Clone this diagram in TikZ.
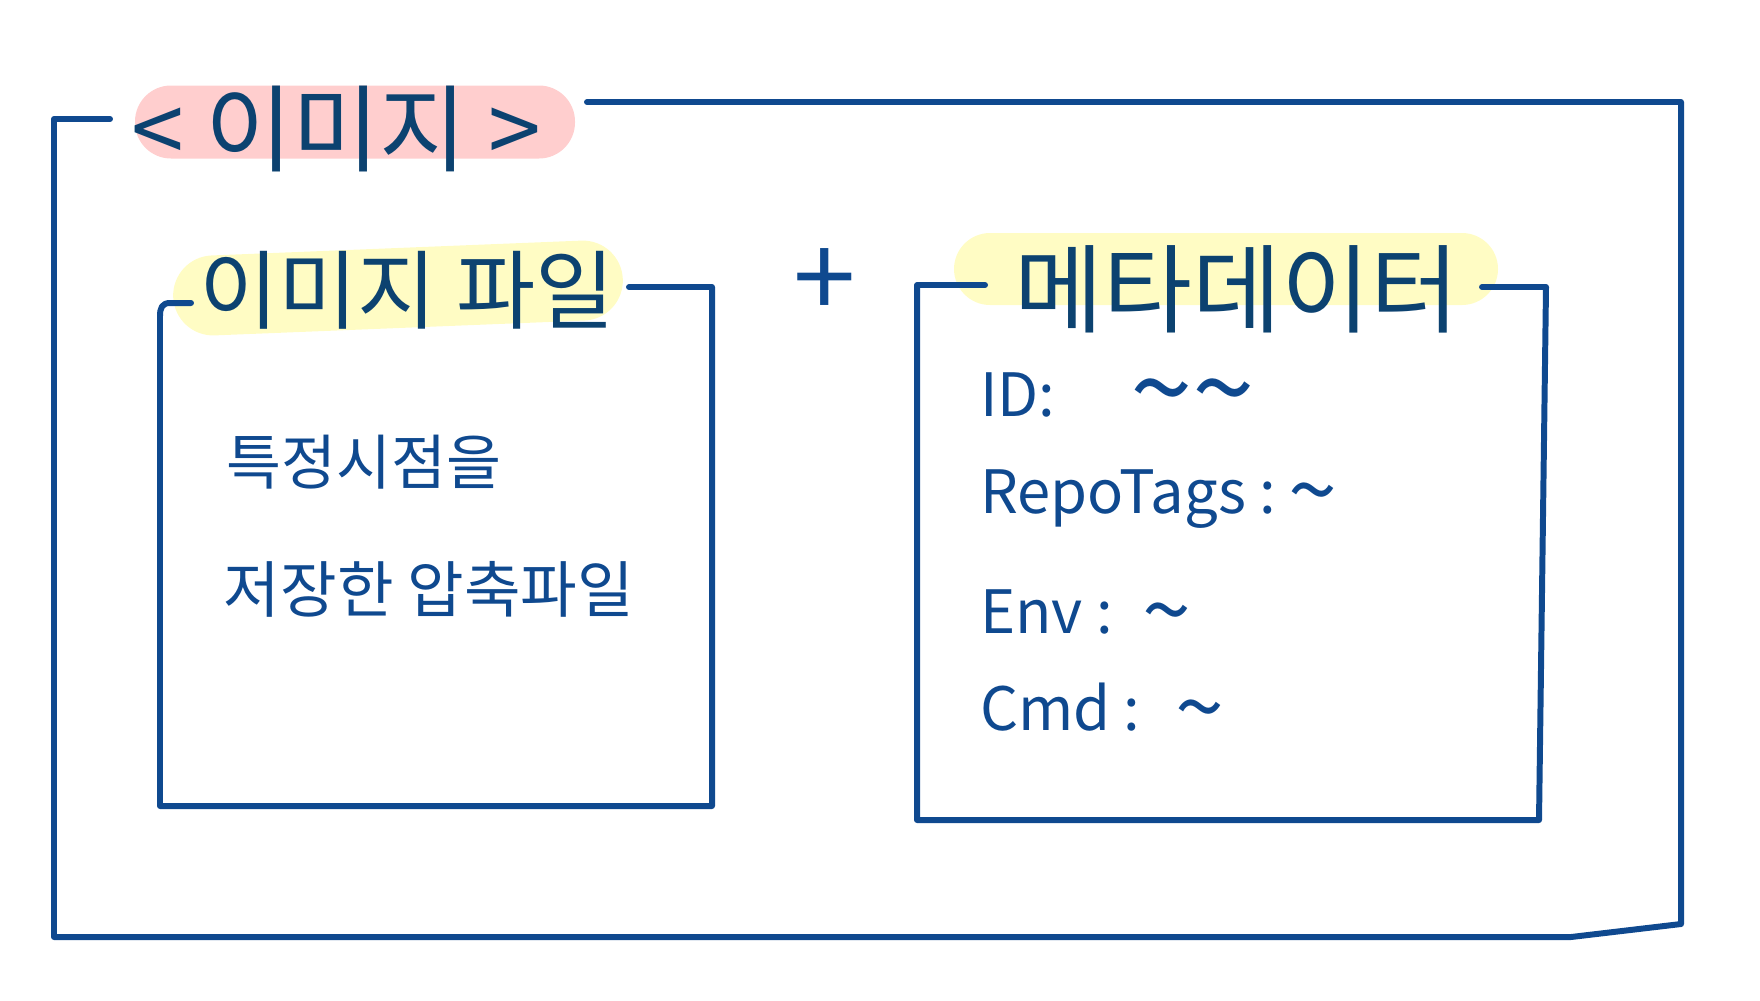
\documentclass[tikz,border=0pt]{standalone}
\usepackage{fontspec}
\setmainfont{Noto Sans CJK KR}
\definecolor{ink}{RGB}{15,73,143}
\definecolor{darkink}{RGB}{12,66,112}
\definecolor{pinkhl}{RGB}{255,206,206}
\definecolor{yellowhl}{RGB}{255,252,196}
\newcommand\wave{\smash{\raisebox{-0.9mm}{\fontsize{25}{25}\selectfont\textasciitilde}}}

\begin{document}
\begin{tikzpicture}[x=0.1mm, y=-0.1mm, line width=1.7pt, line cap=round, line join=round,
  frameline/.style={draw=ink},
  pill/.style={inner sep=0pt, rounded corners=3.6mm},
  bodytext/.style={text=ink, inner sep=0pt, anchor=west, font=\fontsize{17}{20}\selectfont}]
  \useasboundingbox (0,0) rectangle (1760,1000);

  % 바깥 틀 (이미지)
  \coordinate (O1) at (110,119);
  \coordinate (O2) at (54,119);
  \coordinate (O3) at (54,937);
  \coordinate (O4) at (1571,937);
  \coordinate (O5) at (1681,924);
  \coordinate (O6) at (1681,102);
  \coordinate (O7) at (587,102);
  \draw[frameline] (O1) -- (O2) -- (O3) -- (O4) -- (O5) -- (O6) -- (O7);

  % 하이라이트
  \node[pill, fill=pinkhl, minimum width=44mm, minimum height=7.3mm] (titlehl) at (355,122) {};
  \node[pill, fill=yellowhl, minimum width=45mm, minimum height=8mm, rounded corners=4mm, rotate=2.3] (filehl) at (398,288) {};
  \node[pill, fill=yellowhl, minimum width=54.4mm, minimum height=7.2mm] (metahl) at (1226,269) {};

  % 이미지 파일 상자
  \coordinate (L1) at (191,303);
  \coordinate (L2) at (160,806);
  \coordinate (L3) at (712,806);
  \coordinate (L4) at (712,287);
  \coordinate (L5) at (629,287);
  \draw[frameline] (L1) -- (170,303) .. controls (162,303) and (160,308) .. (160,316) -- (L2) -- (L3) -- (L4) -- (L5);

  % 메타데이터 상자
  \coordinate (R1) at (985,285);
  \coordinate (R2) at (917,285);
  \coordinate (R3) at (917,820);
  \coordinate (R4) at (1539,820);
  \coordinate (R5) at (1546,287);
  \coordinate (R6) at (1482,287);
  \draw[frameline] (R1) -- (R2) -- (R3) -- (R4) -- (R5) -- (R6);

  % 제목들
  \node[font=\fontsize{27}{30}\selectfont, text=darkink] (title) at (336,129) {< 이미지 >};
  \node[font=\fontsize{24.5}{27}\selectfont, text=darkink] (imgfile) at (407,290) {이미지 파일};
  \node[font=\fontsize{27.5}{30}\selectfont, text=darkink] (meta) at (1237,289) {메타데이터};
  \node[font=\fontsize{32}{34}\selectfont, text=ink] (plus) at (825,284) {+};

  % 내용
  \node[bodytext] (desc1) at (224,462) {특정시점을};
  \node[bodytext, font=\fontsize{17.5}{20}\selectfont] (desc2) at (221,589) {저장한 압축파일};
  \node[bodytext] (idline) at (977,395) {ID:\hspace{7.5mm}\smash{\raisebox{-1.3mm}{\fontsize{32}{32}\selectfont\textasciitilde\textasciitilde}}};
  \node[bodytext] (tagline) at (977,499) {RepoTags :\hspace{1.2mm}\wave};
  \node[bodytext] (envline) at (977,612) {Env :\hspace{3mm}\wave};
  \node[bodytext] (cmdline) at (977,707) {Cmd :\hspace{3.5mm}\wave};
\end{tikzpicture}
\end{document}
